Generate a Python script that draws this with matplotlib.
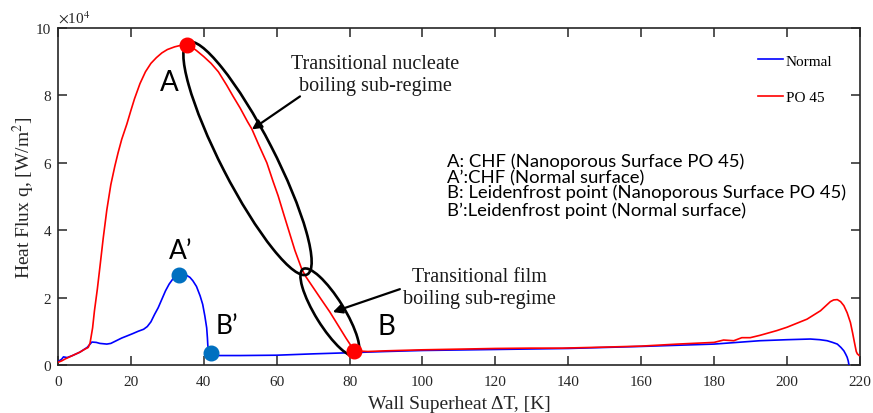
import matplotlib
matplotlib.use("Agg")
import matplotlib.pyplot as plt
from matplotlib.patches import Ellipse
from matplotlib.transforms import ScaledTranslation
from matplotlib.ticker import FuncFormatter

plt.rcParams['font.family'] = ['Liberation Serif', 'DejaVu Serif']
plt.rcParams['mathtext.fontset'] = 'stix'

# ---------------- data ----------------
# Normal surface (blue)
normal_dT = [0, 1, 1.5, 2.5, 4, 6, 8, 9.3, 10.5, 11.5, 13.4, 14.5, 16, 17.5, 18.9,
             20.5, 22, 23.5, 24.5, 25.5, 26.5, 27.5, 28.5, 29.5, 30.5, 31.5, 32.5,
             33.2, 34, 35, 36.2, 37, 38, 39, 39.7, 40.3, 40.8, 41.0, 41.1, 41.3,
             41.6, 42.1, 43, 50, 60, 70, 79, 90, 100, 120, 140, 160, 180, 192.6,
             200, 206.4, 209, 211, 212.5, 213.8, 214.8, 215.6, 216.1, 216.5, 216.8, 217]
normal_q = [0.10, 0.17, 0.24, 0.22, 0.28, 0.38, 0.52, 0.68, 0.67, 0.64, 0.62, 0.64,
            0.72, 0.80, 0.86, 0.93, 1.00, 1.06, 1.14, 1.28, 1.50, 1.70, 1.95, 2.20,
            2.40, 2.55, 2.64, 2.67, 2.69, 2.68, 2.60, 2.50, 2.33, 2.05, 1.80, 1.45,
            1.10, 0.80, 0.60, 0.40, 0.32, 0.30, 0.28, 0.28, 0.29, 0.33, 0.36, 0.40,
            0.43, 0.46, 0.49, 0.55, 0.62, 0.72, 0.75, 0.77, 0.75, 0.72, 0.67, 0.62,
            0.52, 0.42, 0.32, 0.23, 0.12, 0.0]
normal_q = [v * 1e4 for v in normal_q]

# Nanoporous surface PO 45 (red)
po45_dT = [0, 1, 2, 3, 4, 5, 6, 7.4, 8.3, 8.8, 9.5, 10, 10.8, 11.5, 12.4, 13.4,
           14.5, 15.6, 16.5, 17.5, 18.9, 20, 21, 22.5, 24, 25.5, 27, 28.5, 30, 32,
           33.5, 35.3, 36.5, 38, 40, 42, 44, 46.3, 48, 50, 52, 53.2, 55, 57.3, 59,
           60.4, 62, 63.2, 65, 66.9, 68, 70, 72, 74.6, 77, 79, 81.3, 85, 90, 100,
           110, 120, 130, 138.3, 150, 160, 170, 180, 182.6, 185.4, 187.6, 189.9,
           192.6, 197.2, 200, 205.5, 209.2, 211.9, 212.8, 213.8, 214.7, 215.6,
           216.5, 217.4, 218, 218.5, 219, 219.3, 219.8]
po45_q = [0.08, 0.12, 0.18, 0.23, 0.28, 0.33, 0.38, 0.47, 0.52, 0.65, 1.10, 1.60,
          2.25, 2.90, 3.75, 4.60, 5.35, 5.90, 6.30, 6.70, 7.15, 7.55, 7.90, 8.35,
          8.70, 8.95, 9.12, 9.26, 9.36, 9.44, 9.48, 9.50, 9.45, 9.33, 9.15, 8.95,
          8.70, 8.30, 7.98, 7.62, 7.22, 7.00, 6.55, 6.00, 5.45, 5.02, 4.45, 4.03,
          3.40, 2.84, 2.62, 2.30, 1.98, 1.57, 1.15, 0.80, 0.42, 0.40, 0.42, 0.45,
          0.47, 0.49, 0.50, 0.50, 0.53, 0.56, 0.62, 0.67, 0.74, 0.72, 0.81, 0.81,
          0.88, 1.02, 1.12, 1.36, 1.61, 1.88, 1.93, 1.94, 1.88, 1.76, 1.55, 1.26,
          0.95, 0.67, 0.40, 0.33, 0.28]
po45_q = [v * 1e4 for v in po45_q]

# key points
po45_pts_dT = [35.3, 81.3]       # A (CHF), B (Leidenfrost)
po45_pts_q = [9.5e4, 0.42e4]
normal_pts_dT = [33.2, 42.1]     # A', B'
normal_pts_q = [2.67e4, 0.36e4]

series_labels = ['Normal', 'PO 45']
x_ticks = list(range(0, 221, 20))
y_ticks = [0, 2e4, 4e4, 6e4, 8e4, 10e4]

notes = ['A: CHF (Nanoporous Surface PO 45)',
         'A\u2019:CHF (Normal surface)',
         'B: Leidenfrost point (Nanoporous Surface PO 45)',
         'B\u2019:Leidenfrost point (Normal surface)']

# ---------------- figure ----------------
fig = plt.figure(figsize=(8.73, 4.14), dpi=100)
ax = fig.add_axes([0.0664, 0.116, 0.9186, 0.814])

blue = '#0000FF'
red = '#FF0000'
ax.plot(normal_dT, normal_q, color=blue, lw=1.2, label=series_labels[0], zorder=3)
ax.plot(po45_dT, po45_q, color=red, lw=1.2, label=series_labels[1], zorder=4)

ax.plot(po45_pts_dT, po45_pts_q, 'o', color=red, ms=10.5, zorder=6)
ax.plot(normal_pts_dT, normal_pts_q, 'o', color='#0070C0', ms=10.5, zorder=6)

ax.set_xlim(0, 220)
ax.set_ylim(0, 1e5)
ax.set_xticks(x_ticks)
ax.set_yticks(y_ticks)
ax.yaxis.set_major_formatter(FuncFormatter(lambda v, p: f'{v/1e4:g}'))
ax.tick_params(direction='in', length=6.5, width=1.1, top=True, right=True,
               labelsize=11, colors='#262626', labelcolor='#262626')
ax.tick_params(axis='x', pad=7)
ax.tick_params(axis='y', pad=5)
for s in ax.spines.values():
    s.set_color('#262626')
    s.set_linewidth(1.2)

ax.set_xlabel('Wall Superheat \u0394T, [K]', fontsize=14, color='#262626', labelpad=5)
ax.set_ylabel('Heat Flux q, [W/m$^2$]', fontsize=14, color='#262626', labelpad=-1)
ax.text(0.0, 1.006, r'$\times$10$^4$', transform=ax.transAxes, fontsize=11,
        color='#262626', ha='left', va='bottom')

leg = ax.legend(loc='upper left', bbox_to_anchor=(0.873, 0.923), frameon=False,
                fontsize=11, handlelength=1.65, handletextpad=0.15,
                labelspacing=1.5, borderpad=0, borderaxespad=0)

# ellipses (centre in data coords, size in inches)
def ellipse(cx, cy, w_in, h_in, angle):
    tr = fig.dpi_scale_trans + ScaledTranslation(cx, cy, ax.transData)
    e = Ellipse((0, 0), w_in, h_in, angle=angle, transform=tr, fill=False,
                ec='black', lw=1.9, zorder=5)
    ax.add_patch(e)

ellipse(52.0, 6.13e4, 2.61, 0.53, -62.8)
ellipse(74.6, 1.56e4, 1.02, 0.285, -58.2)

# arrows and texts
arrow = dict(arrowstyle='-|>', color='black', lw=1.6, mutation_scale=14,
             shrinkA=0, shrinkB=0)
ax.annotate('', xy=(53.2, 6.99e4), xytext=(66.4, 7.97e4), arrowprops=arrow, zorder=7)
ax.annotate('', xy=(75.4, 1.57e4), xytext=(93.8, 2.25e4), arrowprops=arrow, zorder=7)

ax.text(87.0, 8.62e4, 'Transitional nucleate\nboiling sub-regime', fontsize=14.5,
        ha='center', va='center', color='#1a1a1a')
ax.text(115.6, 2.31e4, 'Transitional film\nboiling sub-regime', fontsize=14.5,
        ha='center', va='center', color='#1a1a1a')

sans = ['Lato', 'DejaVu Sans']
ax.text(30.5, 8.41e4, 'A', fontsize=20, family=sans, ha='center', va='center')
ax.text(33.7, 3.41e4, 'A\u2019', fontsize=19, family=sans, ha='center', va='center')
ax.text(46.4, 1.16e4, 'B\u2019', fontsize=19, family=sans, ha='center', va='center')
ax.text(90.0, 1.16e4, 'B', fontsize=20, family=sans, ha='center', va='center')

note_y = [6.05e4, 5.57e4, 5.13e4, 4.62e4]
for t, yy in zip(notes, note_y):
    ax.text(106.7, yy, t, fontsize=13.3, family=sans, ha='left', va='center')

fig.savefig('out.png', dpi=100)
